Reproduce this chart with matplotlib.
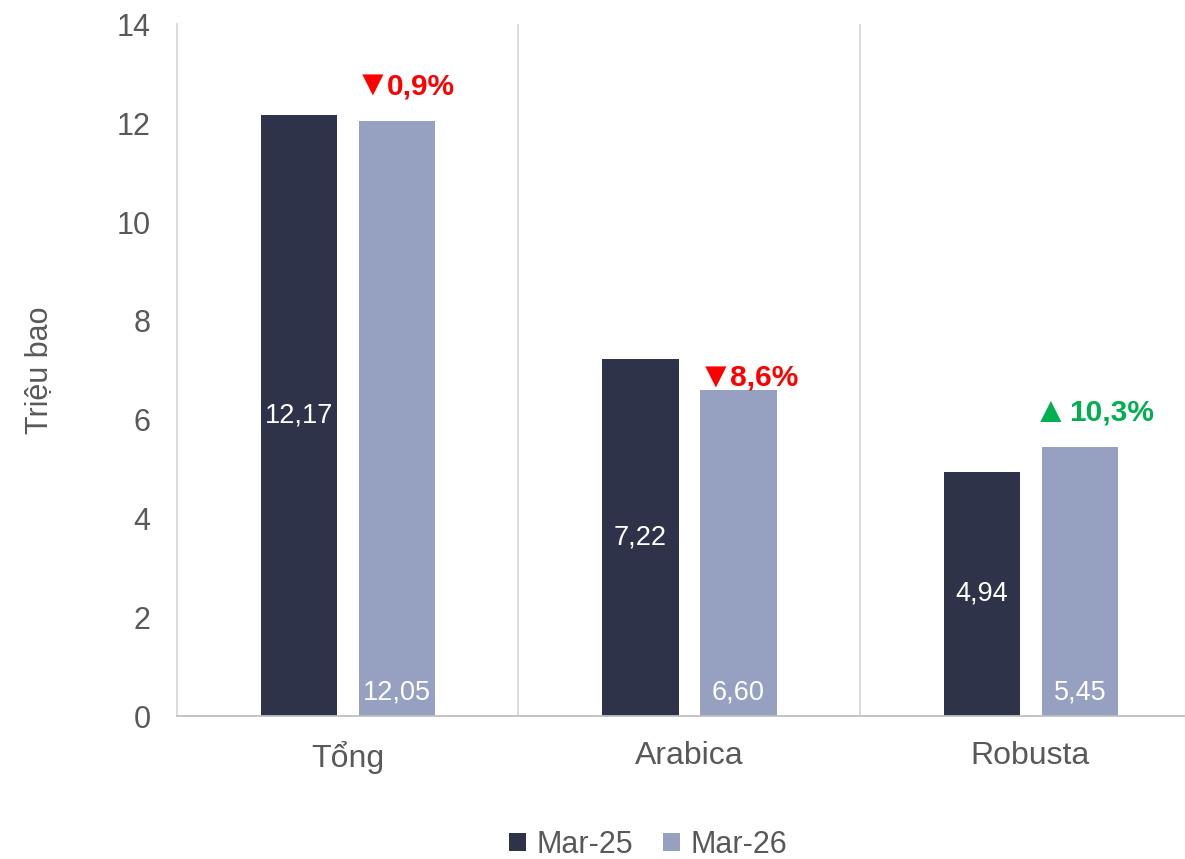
import numpy as np
import matplotlib.pyplot as plt

plt.rcParams['font.family'] = ['Liberation Sans', 'DejaVu Sans']

categories = ["Tổng", "Arabica", "Robusta"]
mar25 = [12.17, 7.22, 4.94]
mar26 = [12.05, 6.60, 5.45]
labels25 = ["12,17", "7,22", "4,94"]
labels26 = ["12,05", "6,60", "5,45"]
arrows = ["▼", "▼", "▲"]
changes = ["0,9%", "8,6%", "10,3%"]
change_colors = ["#FF0000", "#FF0000", "#00B050"]
change_y = [12.75, 6.85, 6.15]

dark = "#2E3349"
light = "#96A0C0"
grey = "#595959"

fig = plt.figure(figsize=(11.85, 8.59), dpi=100)
ax = fig.add_axes([177/1185, 1-716/859, 1024/1185, 691.6/859])

x = np.arange(len(categories))
w = 0.223
b1 = ax.bar(x - 0.142, mar25, w, color=dark, label="Mar-25")
b2 = ax.bar(x + 0.145, mar26, w, color=light, label="Mar-26")

# where the arrow ends and the percentage starts, per category
anchor = [0.110, 0.116, 0.103]
arrow_dx = [3.6, 3.6, 2.2]
text_dx = [1.0, 1.0, 2.7]
for i in range(len(categories)):
    ax.text(x[i] - 0.142, mar25[i] / 2, labels25[i], ha="center", va="center",
            color="white", fontsize=19.5)
    ax.text(x[i] + 0.145, 0.48, labels26[i], ha="center", va="center",
            color="white", fontsize=19.5)
    ax.annotate(arrows[i], (x[i] + anchor[i], change_y[i]), xytext=(arrow_dx[i], 0),
                textcoords="offset points", ha="right", va="center",
                color=change_colors[i], fontsize=26)
    ax.annotate(changes[i], (x[i] + anchor[i], change_y[i]), xytext=(text_dx[i], 0),
                textcoords="offset points", ha="left", va="center",
                color=change_colors[i], fontsize=21.5, fontweight="bold")

ax.set_xlim(-0.5, 2.5)
ax.set_ylim(0, 14)
ax.set_yticks(range(0, 15, 2))
ax.set_xticks(x)
ax.set_xticklabels(categories)
ax.tick_params(axis="both", length=0, labelsize=22, labelcolor=grey)
ax.tick_params(axis="x", labelsize=23, pad=18)
ax.tick_params(axis="y", pad=19)

for xv in [0.5, 1.5]:
    ax.axvline(xv, color="#D9D9D9", lw=1.3, zorder=0)

for s in ["top", "right"]:
    ax.spines[s].set_visible(False)
ax.spines["left"].set_color("#D9D9D9")
ax.spines["left"].set_linewidth(1.3)
ax.spines["bottom"].set_color("#BFBFBF")
ax.spines["bottom"].set_linewidth(1.3)

ax.set_ylabel("Triệu bao", fontsize=22, color=grey, labelpad=44)

fig.legend(handles=[b1, b2], loc="center", bbox_to_anchor=(0.547, 1-845/859),
           ncol=2, frameon=False, fontsize=22, labelcolor=grey,
           handlelength=0.55, handleheight=0.55, handletextpad=0.35, columnspacing=1.0)

fig.savefig("out.png", dpi=100)
